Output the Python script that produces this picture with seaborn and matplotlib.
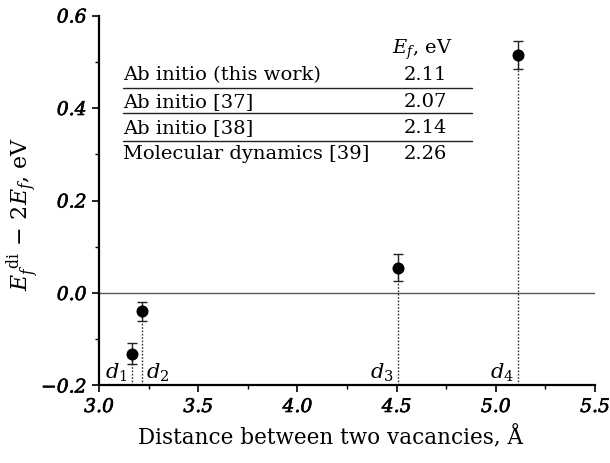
import matplotlib
matplotlib.use("Agg")
import matplotlib.pyplot as plt
import matplotlib.patheffects as pe
import seaborn as sns
import pandas as pd
from matplotlib.ticker import MultipleLocator

# Divacancy binding data
distance = [3.165, 3.216, 4.506, 5.114]
energy = [-0.131, -0.040, 0.055, 0.515]
error = [0.022, 0.020, 0.030, 0.030]
dist_labels = ["$d_1$", "$d_2$", "$d_3$", "$d_4$"]

# Vacancy formation energies from different methods
methods = ["Ab initio (this work)", "Ab initio [37]", "Ab initio [38]",
           "Molecular dynamics [39]"]
ef_values = ["2.11", "2.07", "2.14", "2.26"]

sns.set_theme(style="ticks")
plt.rcParams["font.family"] = ["DejaVu Serif"]
plt.rcParams["mathtext.fontset"] = "dejavuserif"
plt.rcParams["text.color"] = "black"
plt.rcParams["axes.labelcolor"] = "black"

df = pd.DataFrame({"distance": distance, "energy": energy, "error": error})

fig = plt.figure(figsize=(6.10, 4.63), dpi=100)
ax = fig.add_axes([0.1623, 0.1674, 0.8131, 0.7991])

ax.axhline(0.0, color="#555555", lw=1.0, zorder=1)
ax.vlines(df["distance"], -0.2, df["energy"], colors="#333333",
          linestyles=(0, (1.2, 1.2)), lw=1.0, zorder=1)
ax.errorbar(df["distance"], df["energy"], yerr=df["error"], fmt="none",
            ecolor="#222222", elinewidth=1.0, capsize=3.5, capthick=1.0, zorder=2)
sns.scatterplot(data=df, x="distance", y="energy", ax=ax, color="black",
                s=75, edgecolor="black", linewidth=0, zorder=3, legend=False)

offsets = [(-3, 1), (3, 1), (-3, 1), (-3, 1)]
aligns = ["right", "left", "right", "right"]
for x, lab, off, ha in zip(distance, dist_labels, offsets, aligns):
    ax.annotate(lab, (x, -0.2), xytext=off, textcoords="offset points",
                ha=ha, va="bottom", fontsize=15)

ax.set_xlim(3.0, 5.5)
ax.set_ylim(-0.2, 0.6)
xt = [3.0, 3.5, 4.0, 4.5, 5.0, 5.5]
ax.set_xticks(xt)
ax.set_xticklabels([f"{t:.1f}" for t in xt], style="italic", fontsize=13.5)
ax.set_yticks([-0.2, 0.0, 0.2, 0.4, 0.6])
ax.set_yticklabels(["\u22120.2", "0.0", "0.2", "0.4", "0.6"], style="italic",
                   fontsize=13.5)
ax.xaxis.set_minor_locator(MultipleLocator(0.25))
ax.yaxis.set_minor_locator(MultipleLocator(0.1))
ax.set_xlim(3.0, 5.5)
ax.set_ylim(-0.2, 0.6)
ax.tick_params(which="major", direction="out", length=5, width=1.2,
               color="black", labelcolor="black", pad=4)
ax.tick_params(which="minor", direction="out", length=3, width=1.0,
               color="black")
# slightly heavier tick numerals
for lab in ax.get_xticklabels() + ax.get_yticklabels():
    lab.set_path_effects([pe.withStroke(linewidth=0.45, foreground="black")])
for side in ["left", "bottom"]:
    ax.spines[side].set_linewidth(1.6)
    ax.spines[side].set_color("black")
sns.despine(ax=ax)

ax.set_xlabel("Distance between two vacancies, \u00c5", fontsize=15.5)
ax.set_ylabel(r"$E_f^{\;\mathrm{di}}\,-\,2E_f$, eV", fontsize=16)
ax.xaxis.set_label_coords(0.466, -0.11)
ax.yaxis.set_label_coords(-0.115, 0.465)

# Formation energy table
row_y = [0.838, 0.766, 0.697, 0.626]
rule_y = [0.805, 0.737, 0.660]
ax.text(0.652, 0.907, "$E_f$, eV", transform=ax.transAxes, ha="center",
        va="center", fontsize=14)
for y, m, v in zip(row_y, methods, ef_values):
    ax.text(0.0484, y, m, transform=ax.transAxes, ha="left", va="center",
            fontsize=14)
    ax.text(0.701, y, v, transform=ax.transAxes, ha="right", va="center",
            fontsize=14)
for y in rule_y:
    ax.plot([0.0484, 0.7514], [y, y], transform=ax.transAxes, color="#222222",
            lw=1.0)

fig.savefig("out.png", dpi=100)
